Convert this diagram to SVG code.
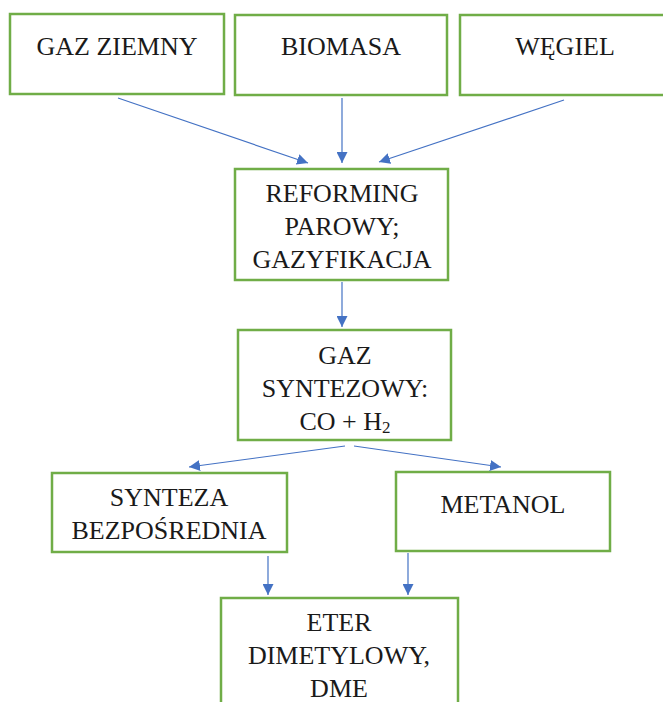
<svg xmlns="http://www.w3.org/2000/svg" width="663" height="702" viewBox="0 0 663 702">
<style>
.box{fill:#fff;stroke:#70AD47;stroke-width:2.5}
.t{font-family:'Liberation Serif','Times New Roman',serif;font-size:26px;fill:#1a1a1a;text-anchor:middle}
.c{stroke:#4472C4;stroke-width:1.2;fill:none;marker-end:url(#ah)}
</style>
<defs>
<marker id="ah" viewBox="0 0 10 10" refX="10" refY="5" markerWidth="11" markerHeight="11" markerUnits="userSpaceOnUse" orient="auto">
<path d="M0,0 L10,5 L0,10 z" fill="#4472C4"/>
</marker>
</defs>
<rect width="663" height="702" fill="#fff"/>
<g id="gaz-ziemny"><rect class="box" x="10" y="14" width="214" height="80"/><text class="t" x="117" y="55">GAZ ZIEMNY</text></g>
<g id="biomasa"><rect class="box" x="235" y="15" width="212" height="80"/><text class="t" x="341" y="55">BIOMASA</text></g>
<g id="wegiel"><rect class="box" x="460" y="15" width="210" height="80"/><text class="t" x="565" y="55">WĘGIEL</text></g>
<g id="reforming"><rect class="box" x="235" y="169" width="213" height="111"/>
<text class="t" x="342" y="202">REFORMING</text><text class="t" x="342" y="235">PAROWY;</text><text class="t" x="342" y="268">GAZYFIKACJA</text></g>
<g id="gaz-syntezowy"><rect class="box" x="238" y="330" width="213" height="110"/>
<text class="t" x="345" y="364">GAZ</text><text class="t" x="345" y="397">SYNTEZOWY:</text><text class="t" x="345" y="430">CO + H<tspan font-size="17" dy="3">2</tspan></text></g>
<g id="synteza"><rect class="box" x="52" y="473" width="235" height="79"/>
<text class="t" x="169" y="506">SYNTEZA</text><text class="t" x="169" y="539">BEZPOŚREDNIA</text></g>
<g id="metanol"><rect class="box" x="396" y="472" width="214" height="79"/><text class="t" x="503" y="513">METANOL</text></g>
<g id="eter"><rect class="box" x="221" y="598" width="237" height="110"/>
<text class="t" x="339" y="631">ETER</text><text class="t" x="339" y="664">DIMETYLOWY,</text><text class="t" x="339" y="697">DME</text></g>
<g id="connectors">
<line class="c" x1="118" y1="98" x2="308" y2="163"/>
<line class="c" x1="342" y1="98" x2="342" y2="163"/>
<line class="c" x1="564" y1="100" x2="379" y2="162"/>
<line class="c" x1="342" y1="282" x2="342" y2="327"/>
<line class="c" x1="345" y1="446" x2="189" y2="467"/>
<line class="c" x1="354" y1="446" x2="501" y2="467"/>
<line class="c" x1="268" y1="556" x2="268" y2="595"/>
<line class="c" x1="408" y1="553" x2="408" y2="595"/>
</g>
</svg>
